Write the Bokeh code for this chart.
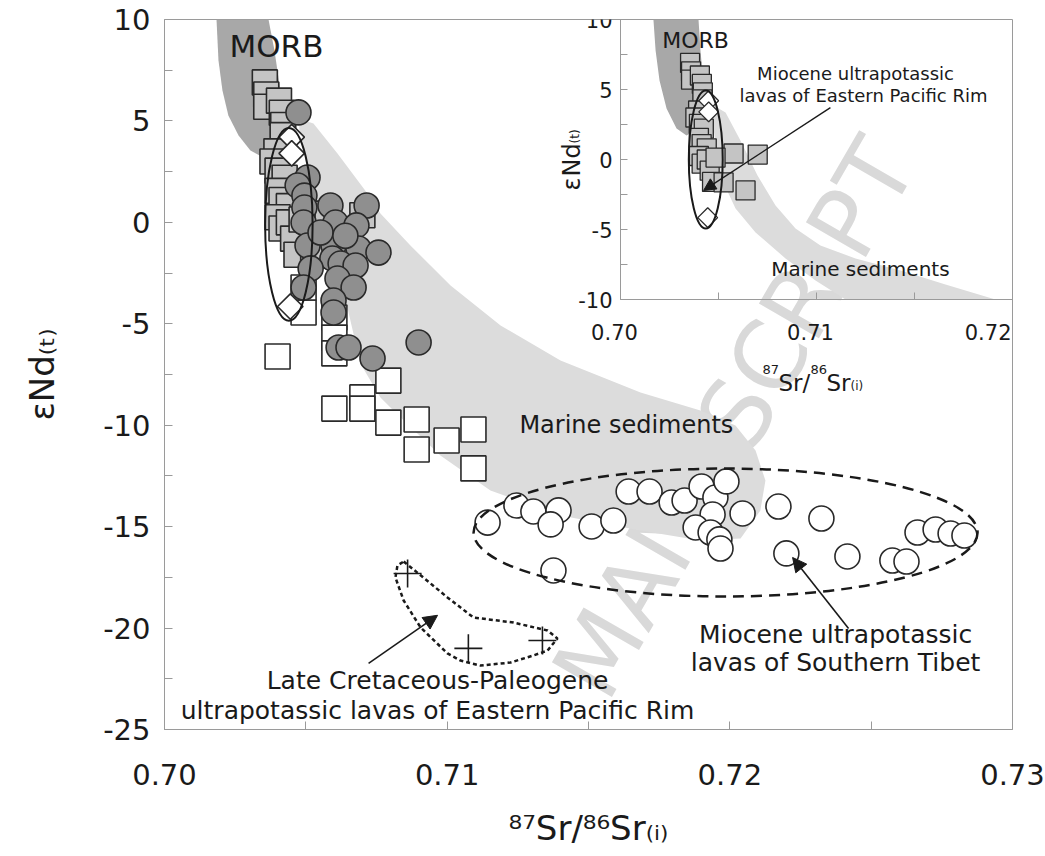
import numpy as np
from bokeh.plotting import figure
from bokeh.models import Range1d, FixedTicker, NumeralTickFormatter, Label, Arrow, NormalHead
from bokeh.core.properties import value
from bokeh.embed import file_html
from bokeh.resources import INLINE

FONT = "DejaVu Sans"
INK = "#1a1a1a"
EDGE = "#2a2a2a"
FRAME_GREY = "#9a9a9a"
MORB_FILL = "#a8a8a8"
SED_FILL = "#dcdcdc"
SQUARE_FILL = "#c4c4c4"
CIRCLE_FILL = "#8f8f8f"
WATERMARK = "#d9d9d9"

# canvas and frame layout (pixels)
W, H = 1045, 856
FRAME_L, FRAME_R, FRAME_T, FRAME_B = 164, 1012, 19, 729
INSET_L, INSET_B = 620, 299          # inset panel shares the frame's top-right corner

X_RANGE = (0.70, 0.73)
Y_RANGE = (-25.0, 10.0)
IX_RANGE = (0.70, 0.72)
IY_RANGE = (-10.0, 10.0)

X_TITLE = "\u2078\u2077Sr/\u2078\u2076Sr\u208d\u1d62\u208e"
Y_TITLE = "\u03b5Nd\u208d\u209c\u208e"

# ---------------- main diagram ----------------
x_major = [0.70, 0.71, 0.72, 0.73]
x_minor = [0.705, 0.715, 0.725]
y_major = [-25, -20, -15, -10, -5, 0, 5, 10]
y_minor = [-22.5, -17.5, -12.5, -7.5, -2.5, 2.5, 7.5]

# MORB field
morb_x = [0.70184, 0.70368, 0.70389, 0.70410, 0.70425, 0.70432, 0.70418, 0.70357,
          0.70304, 0.70262, 0.70226, 0.70205, 0.70191]
morb_y = [10.0, 10.0, 8.47, 6.50, 5.02, 4.04, 3.44, 3.15, 3.54, 4.28, 5.27, 6.50, 7.98]

# marine sediments field
sed_x = [0.70474, 0.70527, 0.70612, 0.70718, 0.70764, 0.70870, 0.71012, 0.71189,
         0.71401, 0.71684, 0.71896, 0.72020, 0.72091, 0.72126, 0.72108, 0.72038,
         0.71896, 0.71684, 0.71401, 0.71153, 0.70976, 0.70810, 0.70764, 0.70693,
         0.70647, 0.70587, 0.70517, 0.70481]
sed_y = [5.12, 4.87, 3.39, 1.42, 0.44, -1.14, -3.11, -5.08, -6.81, -8.39, -9.27,
         -10.01, -11.25, -12.73, -14.20, -15.58, -15.68, -15.19, -14.45, -13.22,
         -11.49, -9.27, -8.63, -6.96, -4.20, -1.88, 2.06, 4.04]

# Miocene lavas, Eastern Pacific Rim (grey squares)
epr_sq_x = [0.70355, 0.70360, 0.70360, 0.70405, 0.70415, 0.70420, 0.70418, 0.70396,
            0.70382, 0.70400, 0.70425, 0.70400, 0.70414, 0.70440, 0.70400, 0.70414,
            0.70440, 0.70700, 0.70455, 0.70467, 0.70577, 0.70526, 0.70638, 0.70485]
epr_sq_y = [6.9, 6.3, 5.7, 6.0, 5.4, 4.8, 4.3, 3.5, 3.0, 2.55, 2.2, 1.55, 1.1, 0.8,
            0.25, -0.3, 0.0, 0.35, -0.8, -1.6, 0.43, -1.64, -2.21, 0.14]

# Miocene lavas, Eastern Pacific Rim (diamonds)
epr_dia_x = [0.70450, 0.70450, 0.70445]
epr_dia_y = [4.2, 3.4, -4.15]

# EPR ellipse (centre x, centre y, width, height)
epr_ell = (0.70440, -0.1, 0.00168, 9.5)

# open squares
wsq_x = [0.70400, 0.70492, 0.70492, 0.70601, 0.70601, 0.70601, 0.70601, 0.70700,
         0.70700, 0.70792, 0.70792, 0.70892, 0.70892, 0.70998, 0.71093, 0.71093]
wsq_y = [-6.61, -4.44, -3.21, -4.69, -5.68, -6.46, -9.18, -8.63, -9.18, -7.80,
         -9.87, -9.72, -11.20, -10.75, -10.21, -12.13]

# grey circles
gc_x = [0.70474, 0.70506, 0.70471, 0.70495, 0.70495, 0.70587, 0.70715, 0.70605,
        0.70492, 0.70679, 0.70506, 0.70598, 0.70686, 0.70757, 0.70594, 0.70517,
        0.70623, 0.70676, 0.70612, 0.70669, 0.70492, 0.70598, 0.70598, 0.70616,
        0.70651, 0.70736, 0.70899, 0.70552, 0.70640]
gc_y = [5.42, 2.21, 1.82, 1.32, 0.73, 0.83, 0.83, -0.01, -0.01, -0.15, -1.14, -1.14,
        -1.29, -1.49, -1.78, -2.27, -2.03, -2.13, -2.77, -3.21, -3.21, -3.85, -4.44,
        -6.17, -6.17, -6.71, -5.92, -0.50, -0.66]

# Miocene lavas, Southern Tibet (open circles)
tib_x = [0.71143, 0.71245, 0.71305, 0.71394, 0.71366, 0.71511, 0.71588, 0.71642,
         0.71716, 0.71794, 0.71840, 0.71900, 0.71949, 0.71988, 0.71939, 0.71879,
         0.71932, 0.71963, 0.71967, 0.72045, 0.72172, 0.72324, 0.72200, 0.72416,
         0.72575, 0.72625, 0.72664, 0.72728, 0.72781, 0.72830, 0.71376]
tib_y = [-14.80, -13.96, -14.25, -14.20, -14.89, -14.99, -14.70, -13.27, -13.27,
         -13.81, -13.71, -13.02, -13.56, -12.77, -14.40, -15.04, -15.29, -15.63,
         -16.08, -14.35, -14.01, -14.60, -16.32, -16.47, -16.67, -16.72, -15.29,
         -15.14, -15.34, -15.44, -17.16]
tib_ell = (0.71985, -15.29, 0.01783, 6.31)

# Late Cretaceous-Paleogene lavas, Eastern Pacific Rim (crosses)
lc_x = [0.70860, 0.71075, 0.71337]
lc_y = [-17.31, -21.00, -20.61]
lc_field_x = [0.70846, 0.70916, 0.71001, 0.71093, 0.71235, 0.71355, 0.71390, 0.71355,
              0.71305, 0.71224, 0.71118, 0.71047, 0.71001, 0.70906, 0.70846, 0.70817,
              0.70824]
lc_field_y = [-16.72, -17.51, -18.49, -19.48, -19.73, -20.12, -20.51, -21.11, -21.35,
              -21.70, -21.85, -21.60, -21.25, -19.97, -18.64, -17.51, -16.92]

# ---------------- inset ----------------
ix_major = [0.70, 0.705, 0.71, 0.715, 0.72]
ix_labels = ["0.70", "0.71"]
ix_label_vals = [0.70, 0.71]
ix_last_label, ix_last_val = "0.72", 0.72
iy_major = [-10, -7.5, -5, -2.5, 0, 2.5, 5, 7.5, 10]
iy_label_vals = [-10, -5, 0, 5, 10]
iy_labels = ["-10", "-5", "0", "5", "10"]

imorb_x = [0.70168, 0.70398, 0.70408, 0.70424, 0.70429, 0.70398, 0.70337, 0.70286,
           0.70235, 0.70199, 0.70179]
imorb_y = [10.0, 10.0, 7.79, 5.29, 3.50, 2.21, 1.71, 2.21, 3.64, 5.64, 7.79]

ised_x = [0.70475, 0.70536, 0.70612, 0.70699, 0.70791, 0.70893, 0.71020, 0.71199,
          0.71429, 0.71658, 0.71913, 0.71148, 0.70995, 0.70842, 0.70689, 0.70587,
          0.70520, 0.70490, 0.70469]
ised_y = [3.86, 3.36, 1.36, -1.14, -3.29, -4.93, -6.14, -7.07, -7.93, -8.93, -10.0,
          -10.0, -8.64, -7.07, -5.21, -3.50, -1.50, 0.64, 2.79]
iepr_ell = (0.70435, 0.0, 0.00173, 9.86)

# ---------------- figure ----------------
p = figure(width=W, height=H, x_range=Range1d(*X_RANGE), y_range=Range1d(*Y_RANGE),
           output_backend="svg", toolbar_location=None,
           min_border_left=FRAME_L, min_border_right=W - FRAME_R,
           min_border_top=FRAME_T, min_border_bottom=H - FRAME_B)
p.xgrid.visible = False
p.ygrid.visible = False
p.outline_line_color = FRAME_GREY
p.outline_line_width = 1
p.background_fill_color = "white"
p.border_fill_color = "white"

for ax in (p.xaxis[0], p.yaxis[0]):
    ax.axis_line_color = FRAME_GREY
    ax.major_tick_line_color = FRAME_GREY
    ax.minor_tick_line_color = FRAME_GREY
    ax.major_tick_in = 8
    ax.major_tick_out = 0
    ax.minor_tick_in = 8
    ax.minor_tick_out = 0
    ax.major_label_text_font = FONT
    ax.major_label_text_font_size = "29px"
    ax.major_label_text_color = INK
    ax.axis_label_text_font = FONT
    ax.axis_label_text_font_size = "34px"
    ax.axis_label_text_font_style = "normal"
    ax.axis_label_text_color = INK

p.xaxis.ticker = FixedTicker(ticks=x_major, minor_ticks=x_minor)
p.xaxis.formatter = NumeralTickFormatter(format="0.00")
p.xaxis.major_label_standoff = 34
p.xaxis.axis_label = X_TITLE
p.xaxis.axis_label_standoff = 20
p.yaxis.ticker = FixedTicker(ticks=y_major, minor_ticks=y_minor)
p.yaxis.formatter = NumeralTickFormatter(format="0")
p.yaxis.major_label_standoff = 14
p.yaxis.axis_label = Y_TITLE
p.yaxis.axis_label_standoff = 38

# inset coordinate system mapped onto the frame's top-right corner
ix_per_px = (IX_RANGE[1] - IX_RANGE[0]) / (FRAME_R - INSET_L)
iy_per_px = (IY_RANGE[1] - IY_RANGE[0]) / (INSET_B - FRAME_T)
p.extra_x_ranges = {"ix": Range1d(IX_RANGE[0] - (INSET_L - FRAME_L) * ix_per_px, IX_RANGE[1])}
p.extra_y_ranges = {"iy": Range1d(IY_RANGE[1] - (FRAME_B - FRAME_T) * iy_per_px, IY_RANGE[1])}
IR = dict(x_range_name="ix", y_range_name="iy")

# diagonal watermark, kept inside the frame
p.add_layout(Label(x=0.71465, y=-22.98, text="MANUSCRIPT", angle=np.deg2rad(60),
                   text_font=FONT, text_font_size="95px", text_color=WATERMARK,
                   text_align="left", text_baseline="middle", level="underlay"))

# ---- main fields and samples ----
p.patch(sed_x, sed_y, fill_color=SED_FILL, line_color=None)
p.patch(morb_x, morb_y, fill_color=MORB_FILL, line_color=None)

p.scatter(epr_sq_x, epr_sq_y, marker="square", size=25, fill_color=SQUARE_FILL,
          line_color=EDGE, line_width=1.6)
p.scatter(wsq_x, wsq_y, marker="square", size=25, fill_color="white",
          line_color=EDGE, line_width=1.6)
p.scatter(gc_x, gc_y, marker="circle", size=25, fill_color=CIRCLE_FILL,
          line_color=EDGE, line_width=1.6)
p.scatter(epr_dia_x, epr_dia_y, marker="square", angle=np.pi / 4, size=18,
          fill_color="white", line_color=EDGE, line_width=1.6)
p.ellipse(x=[epr_ell[0]], y=[epr_ell[1]], width=[epr_ell[2]], height=[epr_ell[3]],
          fill_color=None, line_color=INK, line_width=2)

p.scatter(tib_x, tib_y, marker="circle", size=25, fill_color="white",
          line_color=EDGE, line_width=1.6)
p.ellipse(x=[tib_ell[0]], y=[tib_ell[1]], width=[tib_ell[2]], height=[tib_ell[3]],
          fill_color=None, line_color=INK, line_width=2.5, line_dash="11 7")

p.scatter(lc_x, lc_y, marker="cross", size=28, line_color=INK, line_width=1.6)
p.patch(lc_field_x, lc_field_y, fill_color=None, line_color=INK, line_width=2.5,
        line_dash="4 3")

head = dict(size=14, fill_color=INK, line_color=INK, line_width=1)
p.add_layout(Arrow(end=NormalHead(**head), x_start=0.72420, y_start=-20.02,
                   x_end=0.72222, y_end=-16.52, line_color=INK, line_width=1.6))
p.add_layout(Arrow(end=NormalHead(**head), x_start=0.70722, y_start=-21.74,
                   x_end=0.70966, y_end=-19.37, line_color=INK, line_width=1.6))


def label(x, y, text, size, **kw):
    opts = dict(text_align="center", text_baseline="middle")
    opts.update(kw)
    p.add_layout(Label(x=x, y=y, text=text, text_font=FONT,
                       text_font_size=f"{size}px", text_color=INK, **opts))


def rich(x, y, pieces, angle=0.0, **kw):
    # pieces: (text, font size, x offset px, y offset px)
    for txt, size, dx, dy in pieces:
        p.add_layout(Label(x=x, y=y, text=txt, text_font=FONT, text_font_size=f"{size}px",
                           text_color=INK, x_offset=dx, y_offset=dy, angle=angle,
                           text_align="left", text_baseline="alphabetic", **kw))


label(0.70396, 8.67, "MORB", 31)
label(0.71634, -10.0, "Marine sediments", 24)
label(0.72374, -20.31, "Miocene ultrapotassic", 25)
label(0.72374, -21.70, "lavas of Southern Tibet", 25)
label(0.70966, -22.58, "Late Cretaceous-Paleogene", 25)
label(0.70966, -24.06, "ultrapotassic lavas of Eastern Pacific Rim", 25)

# ---------------- inset panel ----------------
ix0, ix1 = IX_RANGE
iy0, iy1 = IY_RANGE
p.patch(ised_x, ised_y, fill_color=SED_FILL, line_color=None, **IR)
p.patch(imorb_x, imorb_y, fill_color=MORB_FILL, line_color=None, **IR)
p.segment(x0=[ix0, ix0], y0=[iy0, iy0], x1=[ix0, ix1], y1=[iy1, iy0],
          line_color=FRAME_GREY, line_width=1, **IR)
p.segment(x0=ix_major, y0=[iy0] * len(ix_major), x1=ix_major,
          y1=[iy0 + 7 * iy_per_px] * len(ix_major), line_color=FRAME_GREY, **IR)
p.segment(x0=[ix0] * len(iy_major), y0=iy_major, x1=[ix0 + 7 * ix_per_px] * len(iy_major),
          y1=iy_major, line_color=FRAME_GREY, **IR)
tick_font = dict(text_font=value(FONT), text_font_size="21px", text_color=INK)
p.text(x=ix_label_vals, y=[iy0] * len(ix_label_vals), text=ix_labels,
       text_align="center", text_baseline="top", x_offset=-6, y_offset=24,
       **tick_font, **IR)
# last tick label kept inside the panel edge
p.text(x=[ix_last_val], y=[iy0], text=[ix_last_label], text_align="right",
       text_baseline="top", x_offset=-1, y_offset=24, **tick_font, **IR)
p.text(x=[ix0] * len(iy_label_vals), y=iy_label_vals, text=iy_labels,
       text_align="right", text_baseline="middle", x_offset=-8, **tick_font, **IR)

p.scatter(epr_sq_x, epr_sq_y, marker="square", size=19, fill_color=SQUARE_FILL,
          line_color=EDGE, line_width=1.3, **IR)
p.scatter(epr_dia_x, epr_dia_y, marker="square", angle=np.pi / 4, size=14,
          fill_color="white", line_color=EDGE, line_width=1.3, **IR)
p.ellipse(x=[iepr_ell[0]], y=[iepr_ell[1]], width=[iepr_ell[2]], height=[iepr_ell[3]],
          fill_color=None, line_color=INK, line_width=2, **IR)
p.add_layout(Arrow(end=NormalHead(size=12, fill_color=INK, line_color=INK, line_width=1),
                   x_start=0.71071, y_start=3.71, x_end=0.70424, y_end=-2.21,
                   line_color=INK, line_width=1.4, **IR))

label(0.70383, 8.5, "MORB", 22, **IR)
label(0.71199, 6.14, "Miocene ultrapotassic", 18, **IR)
label(0.71240, 4.57, "lavas of Eastern Pacific Rim", 18, **IR)
label(0.71224, -7.79, "Marine sediments", 20, **IR)
rich(0.707245, -15.93, [("87", 13, 0, 13), ("Sr/", 23, 16, 0), ("86", 13, 48, 13),
                        ("Sr", 23, 64, 0), ("(i)", 12, 88, -3)], **IR)
rich(0.697551, -2.214, [("ε", 24, 0, 0), ("Nd", 24, 0, 14), ("(t)", 12, 3, 47)],
     angle=np.pi / 2, **IR)

open("out.html", "w").write(file_html(p, INLINE))
